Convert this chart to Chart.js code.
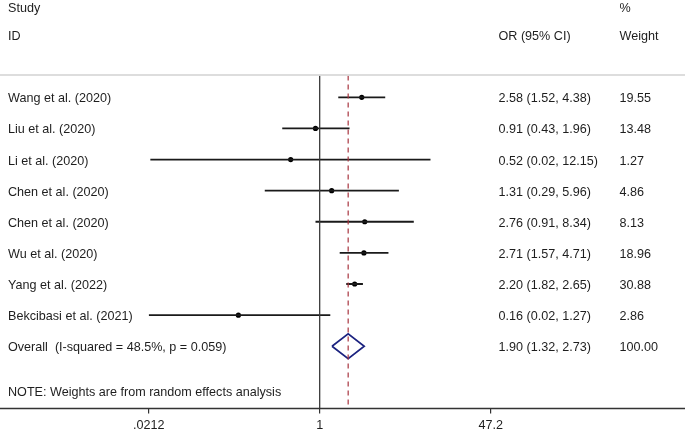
<!DOCTYPE html>
<html>
<head>
<meta charset="utf-8">
<script src="https://cdn.jsdelivr.net/npm/chart.js@4/dist/chart.umd.min.js"></script>
<style>
  html, body { margin: 0; padding: 0; background: #fff; }
  #wrap { width: 685px; height: 430px; position: relative; }
</style>
</head>
<body>
<div id="wrap"><canvas id="forest"></canvas></div>
<script>
// Study data (odds ratios with 95% CI, random-effects weights)
const studies = [
  'Wang et al. (2020)',
  'Liu et al. (2020)',
  'Li et al. (2020)',
  'Chen et al. (2020)',
  'Chen et al. (2020)',
  'Wu et al. (2020)',
  'Yang et al. (2022)',
  'Bekcibasi et al. (2021)'
];
const oddsRatios = [2.58, 0.91, 0.52, 1.31, 2.76, 2.71, 2.20, 0.16];
const ciLower = [1.52, 0.43, 0.022, 0.29, 0.91, 1.57, 1.82, 0.0212];
const ciUpper = [4.38, 1.96, 12.15, 5.96, 8.34, 4.71, 2.65, 1.27];
const weights = [19.55, 13.48, 1.27, 4.86, 8.13, 18.96, 30.88, 2.86];

const overallLabel = 'Overall  (I-squared = 48.5%, p = 0.059)';
const overallOR = 1.90;
const overallLower = 1.32;
const overallUpper = 2.73;
const overallWeight = 100.00;

const noteText = 'NOTE: Weights are from random effects analysis';

const xTicks = [0.0212, 1, 47.2];
const xTickLabels = ['.0212', '1', '47.2'];

const FONT = '"Liberation Sans", Arial, Helvetica, sans-serif';
const TEXT_COLOR = '#1e1e1e';

// row index for each study: 1..n, overall after them
const studyRows = studies.map((s, i) => i + 1);
const overallRow = studies.length + 1;
const noteRow = overallRow + 1.5;
const Y_MIN = 0.3;
const Y_MAX = 11;

function fmtCI(est, lo, hi) {
  return est.toFixed(2) + ' (' + lo.toFixed(2) + ', ' + hi.toFixed(2) + ')';
}

// CI whiskers, one dataset per study
const ciDatasets = studies.map((s, i) => ({
  type: 'scatter',
  showLine: true,
  data: [{ x: ciLower[i], y: studyRows[i] }, { x: ciUpper[i], y: studyRows[i] }],
  borderColor: '#1a1a1a',
  borderWidth: 1.8,
  pointRadius: 0,
  fill: false
}));

const pointDataset = {
  type: 'scatter',
  data: oddsRatios.map((v, i) => ({ x: v, y: studyRows[i] })),
  backgroundColor: '#000',
  borderColor: '#000',
  pointRadius: 2.6,
  pointBorderWidth: 0
};

const diamondHalf = 0.4;
const diamondDataset = {
  type: 'scatter',
  showLine: true,
  data: [
    { x: overallLower, y: overallRow },
    { x: overallOR, y: overallRow - diamondHalf },
    { x: overallUpper, y: overallRow },
    { x: overallOR, y: overallRow + diamondHalf },
    { x: overallLower, y: overallRow }
  ],
  borderColor: '#1c2380',
  borderWidth: 1.7,
  pointRadius: 0,
  fill: false
};

const nullLine = {
  type: 'scatter',
  showLine: true,
  data: [{ x: 1, y: Y_MIN }, { x: 1, y: Y_MAX }],
  borderColor: '#3a3a3a',
  borderWidth: 1.3,
  pointRadius: 0
};

const overallLine = {
  type: 'scatter',
  showLine: true,
  data: [{ x: overallOR, y: Y_MIN }, { x: overallOR, y: Y_MAX }],
  borderColor: '#a8343e',
  borderWidth: 1.2,
  borderDash: [5, 4],
  pointRadius: 0
};

// text columns and full-width rules
const forestText = {
  id: 'forestText',
  afterDraw(chart) {
    const ctx = chart.ctx;
    const y = chart.scales.y;
    const area = chart.chartArea;
    const w = chart.width;
    ctx.save();

    // light rule under the header
    ctx.strokeStyle = '#d2d2d2';
    ctx.lineWidth = 1.5;
    ctx.beginPath();
    ctx.moveTo(0, area.top - 0.5);
    ctx.lineTo(w, area.top - 0.5);
    ctx.stroke();

    // x axis line over the full width
    ctx.strokeStyle = '#333';
    ctx.lineWidth = 1.3;
    ctx.beginPath();
    ctx.moveTo(0, area.bottom);
    ctx.lineTo(w, area.bottom);
    ctx.stroke();

    ctx.fillStyle = TEXT_COLOR;
    ctx.font = '12.6px ' + FONT;
    ctx.textBaseline = 'middle';
    ctx.textAlign = 'left';

    const colStudy = 8;
    const colOR = 498.5;
    const colWeight = 619.5;

    // header
    const h1 = y.getPixelForValue(-1.85);
    const h2 = y.getPixelForValue(-0.95);
    ctx.fillText('Study', colStudy, h1);
    ctx.fillText('%', colWeight, h1);
    ctx.fillText('ID', colStudy, h2);
    ctx.fillText('OR (95% CI)', colOR, h2);
    ctx.fillText('Weight', colWeight, h2);

    studies.forEach((s, i) => {
      const py = y.getPixelForValue(studyRows[i]) + 1.5;
      ctx.fillText(s, colStudy, py);
      ctx.fillText(fmtCI(oddsRatios[i], ciLower[i], ciUpper[i]), colOR, py);
      ctx.fillText(weights[i].toFixed(2), colWeight, py);
    });

    const oy = y.getPixelForValue(overallRow) + 1.5;
    ctx.fillText(overallLabel, colStudy, oy);
    ctx.fillText(fmtCI(overallOR, overallLower, overallUpper), colOR, oy);
    ctx.fillText(overallWeight.toFixed(2), colWeight, oy);

    ctx.fillText(noteText, colStudy, y.getPixelForValue(noteRow));
    ctx.restore();
  }
};

new Chart(document.getElementById('forest'), {
  type: 'scatter',
  data: {
    datasets: [nullLine, overallLine, ...ciDatasets, pointDataset, diamondDataset]
  },
  options: {
    responsive: true,
    maintainAspectRatio: false,
    animation: false,
    layout: {
      padding: { left: 148.7, right: 194.3, top: 75.5, bottom: 0 }
    },
    plugins: {
      legend: { display: false },
      tooltip: { enabled: false }
    },
    scales: {
      x: {
        type: 'logarithmic',
        min: xTicks[0],
        max: xTicks[xTicks.length - 1],
        afterBuildTicks: (axis) => {
          axis.ticks = xTicks.map(v => ({ value: v }));
        },
        afterFit: (axis) => {
          axis.height = 21.5;
        },
        border: { display: false },
        grid: {
          drawOnChartArea: false,
          drawTicks: true,
          tickLength: 5,
          color: '#333',
          lineWidth: 1.2
        },
        ticks: {
          autoSkip: false,
          maxRotation: 0,
          padding: 4,
          color: TEXT_COLOR,
          font: { family: FONT, size: 12.6 },
          callback: (value, index) => xTickLabels[index]
        }
      },
      y: {
        type: 'linear',
        display: false,
        reverse: true,
        min: Y_MIN,
        max: Y_MAX
      }
    }
  },
  plugins: [forestText]
});
</script>
</body>
</html>
